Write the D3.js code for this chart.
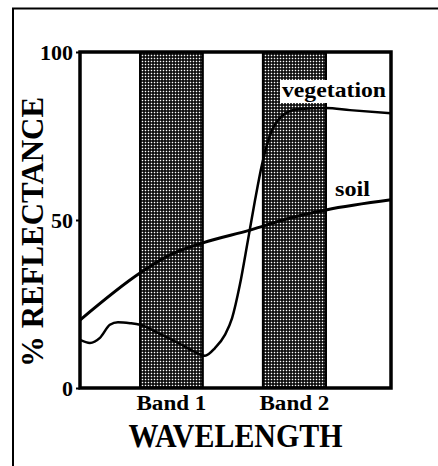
<!DOCTYPE html>
<html>
<head>
<meta charset="utf-8">
<script src="https://cdn.jsdelivr.net/npm/d3@7"></script>
<style>
  html, body { margin: 0; padding: 0; background: #fff; }
  svg { display: block; }
  text { font-family: "Liberation Serif", "Times New Roman", serif; font-weight: bold; fill: #000; }
</style>
</head>
<body>
<svg id="chart" width="438" height="466"></svg>
<script>
// wavelength in arbitrary units (0..100 across the plot), reflectance in %
const bandNames = ['Band 1', 'Band 2'];
const bandStart = [19.3, 58.8];
const bandEnd = [39.5, 79.1];

const vegX = [0, 3.2, 6.4, 9.6, 12.2, 16.1, 19.3, 25.7, 32.2, 37, 40.2, 43.4, 46.6, 48.9, 51.4, 54, 56.3, 58.5, 61.1, 64.3, 67.5, 70.7, 79.1, 86.8, 100];
const vegY = [14.3, 13.4, 14.9, 18.8, 19.6, 19.3, 18.8, 16.1, 13.1, 10.7, 9.6, 11.9, 15.8, 20.8, 30.7, 44, 56, 66.4, 75.3, 80.4, 82.4, 83, 83.3, 82.7, 81.8];

const soilX = [0, 19.3, 28.9, 39.5, 54.7, 67.5, 79.1, 100];
const soilY = [20.2, 34.2, 39.6, 43.2, 47, 50.6, 53, 56];

const yTicks = [0, 50, 100];

const svg = d3.select('#chart');
const plot = { left: 80, right: 391, top: 52, bottom: 388 };

const x = d3.scaleLinear().domain([0, 100]).range([plot.left, plot.right]);
const y = d3.scaleLinear().domain([0, 100]).range([plot.bottom, plot.top]);

// outer frame (only top and left edges show)
svg.append('path')
  .attr('d', `M13,466V8.5H438`)
  .attr('fill', 'none')
  .attr('stroke', '#000')
  .attr('stroke-width', 2);

// stipple pattern for the bands
const defs = svg.append('defs');
const pat = defs.append('pattern')
  .attr('id', 'stipple')
  .attr('patternUnits', 'userSpaceOnUse')
  .attr('width', 3).attr('height', 3);
pat.append('rect').attr('width', 3).attr('height', 3).attr('fill', '#000');
pat.append('rect').attr('x', 0.75).attr('y', 0.75).attr('width', 1.5).attr('height', 1.5).attr('fill', '#fff');

svg.append('g')
  .selectAll('rect')
  .data(bandNames)
  .join('rect')
  .attr('x', (d, i) => x(bandStart[i]))
  .attr('y', y(100))
  .attr('width', (d, i) => x(bandEnd[i]) - x(bandStart[i]))
  .attr('height', y(0) - y(100))
  .attr('fill', 'url(#stipple)')
  .attr('stroke', '#000')
  .attr('stroke-width', 2);

// band labels
svg.append('g')
  .selectAll('text')
  .data(bandNames)
  .join('text')
  .attr('x', (d, i) => x((bandStart[i] + bandEnd[i]) / 2))
  .attr('y', 410)
  .attr('text-anchor', 'middle')
  .attr('font-size', 20)
  .attr('textLength', 70)
  .attr('lengthAdjust', 'spacingAndGlyphs')
  .text((d) => d);

// curves
const line = d3.line()
  .x((d) => x(d[0]))
  .y((d) => y(d[1]))
  .curve(d3.curveMonotoneX);

svg.append('path')
  .datum(soilX.map((v, i) => [v, soilY[i]]))
  .attr('d', line)
  .attr('fill', 'none')
  .attr('stroke', '#000')
  .attr('stroke-width', 3);

svg.append('path')
  .datum(vegX.map((v, i) => [v, vegY[i]]))
  .attr('d', line)
  .attr('fill', 'none')
  .attr('stroke', '#000')
  .attr('stroke-width', 2.5);

// series labels
const vegLabel = svg.append('g');
vegLabel.append('rect')
  .attr('x', 280).attr('y', 80)
  .attr('width', 108).attr('height', 23)
  .attr('fill', '#fff');
vegLabel.append('text')
  .attr('x', 386).attr('y', 97)
  .attr('text-anchor', 'end')
  .attr('font-size', 22)
  .attr('textLength', 104)
  .attr('lengthAdjust', 'spacingAndGlyphs')
  .text('vegetation');

svg.append('text')
  .attr('x', 370).attr('y', 196)
  .attr('text-anchor', 'end')
  .attr('font-size', 22)
  .attr('textLength', 35)
  .attr('lengthAdjust', 'spacingAndGlyphs')
  .text('soil');

// plot frame
svg.append('rect')
  .attr('x', plot.left).attr('y', plot.top)
  .attr('width', plot.right - plot.left)
  .attr('height', plot.bottom - plot.top)
  .attr('fill', 'none')
  .attr('stroke', '#000')
  .attr('stroke-width', 3.5);

// y axis
const yAxis = svg.append('g')
  .attr('transform', `translate(${plot.left},0)`)
  .call(d3.axisLeft(y).tickValues(yTicks).tickSize(4).tickPadding(3).tickFormat(d3.format('d')));
yAxis.select('.domain').remove();
yAxis.selectAll('line').attr('stroke', '#000').attr('stroke-width', 2);
yAxis.selectAll('text')
  .attr('font-size', 22)
  .attr('font-family', '"Liberation Serif", serif')
  .attr('font-weight', 'bold');

// axis titles
svg.append('text')
  .attr('x', (plot.left + plot.right) / 2)
  .attr('y', 447)
  .attr('text-anchor', 'middle')
  .attr('font-size', 33)
  .attr('textLength', 214)
  .attr('lengthAdjust', 'spacingAndGlyphs')
  .text('WAVELENGTH');

svg.append('text')
  .attr('transform', `translate(43,232) rotate(-90)`)
  .attr('text-anchor', 'middle')
  .attr('font-size', 32)
  .attr('textLength', 270)
  .attr('lengthAdjust', 'spacingAndGlyphs')
  .text('% REFLECTANCE');
</script>
</body>
</html>
